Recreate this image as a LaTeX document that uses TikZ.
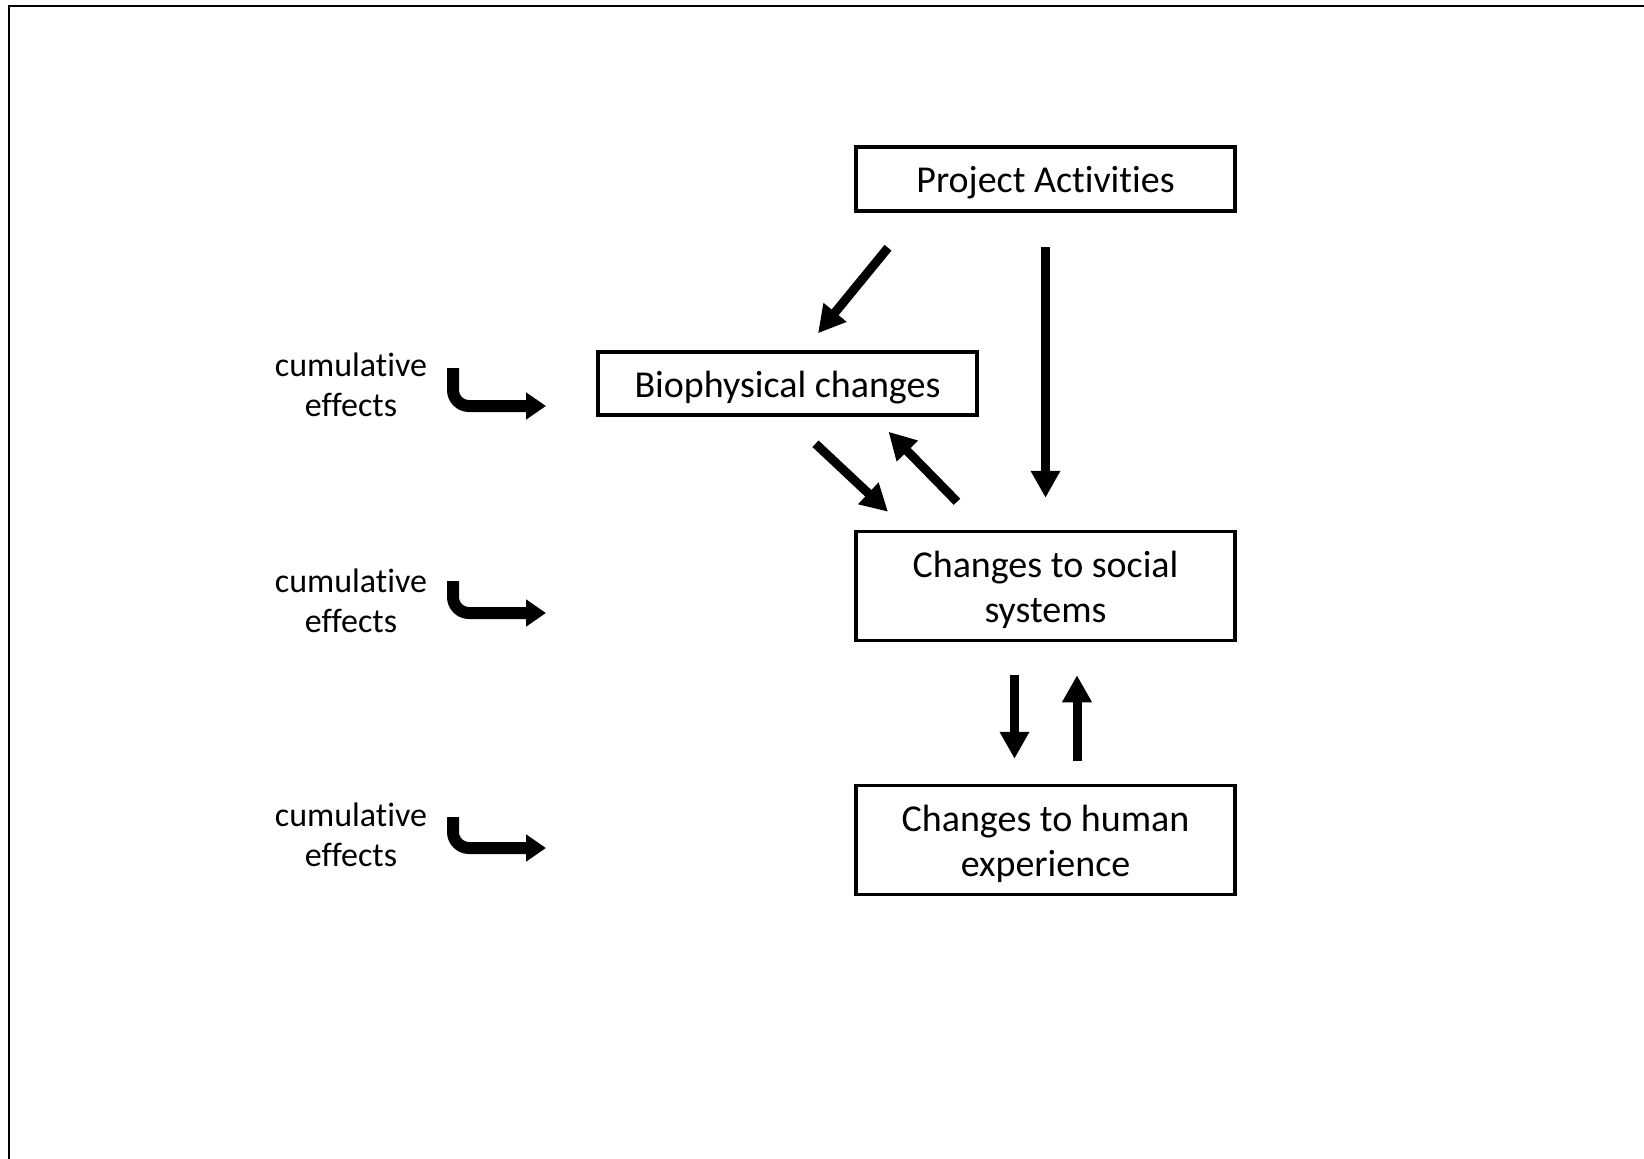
\documentclass[tikz,border=0pt]{standalone}
\usepackage{fontspec}
\setmainfont[Ligatures={NoCommon,NoRequired,NoContextual}]{Carlito}
\usetikzlibrary{arrows.meta}
\newcommand{\dn}[1]{\raisebox{0pt}[\dimexpr\height+8pt\relax]{#1}}

\begin{document}
\begin{tikzpicture}[x=1pt, y=-1pt,
    main/.style = {draw, rectangle, line width=3.5pt, minimum width=379pt, align=center,
                   font=\fontsize{38}{45}\selectfont},
    cum/.style = {align=center, font=\fontsize{34}{40}\selectfont},
    arr/.style = {line width=9pt, -{Triangle[length=27pt,width=28pt]}},
    hookarr/.style = {line width=12pt, rounded corners=16pt, -{Triangle[length=20pt,width=26pt]}}]
        \useasboundingbox (0,0) rectangle (1644,1159);
        \draw[line width=2.5pt] (9,1159) -- (9,6) -- (1644,6);
        \node[main, minimum height=64pt] (pa) at (1045.5,179) {\dn{Project Activities}};
        \node[main, minimum height=63pt] (bio) at (787.5,383.5) {\dn{Biophysical changes}};
        \node[main, minimum height=109pt] (soc) at (1045.5,586) {\dn{Changes to social}\\systems};
        \node[main, minimum height=109pt] (hum) at (1045.5,840) {\dn{Changes to human}\\experience};
        \node[cum] (c1) at (351,385) {cumulative\\effects};
        \node[cum] (c2) at (351,601) {cumulative\\effects};
        \node[cum] (c3) at (351,835) {cumulative\\effects};
        \draw[arr] ([xshift=-157.5pt, yshift=-35pt]pa.south) -- ([xshift=30.5pt, yshift=17pt]bio.north);
        \draw[arr] ([yshift=-34pt]pa.south) -- ([yshift=32pt]soc.north);
        \draw[arr] ([xshift=28pt, yshift=-27pt]bio.south) -- ([xshift=-157.5pt, yshift=18pt]soc.north);
        \draw[arr] ([xshift=-88.5pt, yshift=28pt]soc.north) -- ([xshift=101pt, yshift=-15pt]bio.south);
        \draw[arr] ([xshift=-31pt, yshift=-33pt]soc.south) -- ([xshift=-31pt, yshift=25pt]hum.north);
        \draw[arr] ([xshift=31.5pt, yshift=23pt]hum.north) -- ([xshift=31.5pt, yshift=-33pt]soc.south);
        \draw[hookarr] ([shift={(102pt,17pt)}]c1.center) |- ([shift={(195pt,-21pt)}]c1.center);
        \draw[hookarr] ([shift={(102pt,20pt)}]c2.center) |- ([shift={(195pt,-12pt)}]c2.center);
        \draw[hookarr] ([shift={(102pt,18pt)}]c3.center) |- ([shift={(195pt,-13pt)}]c3.center);
    \end{tikzpicture}
\end{document}
